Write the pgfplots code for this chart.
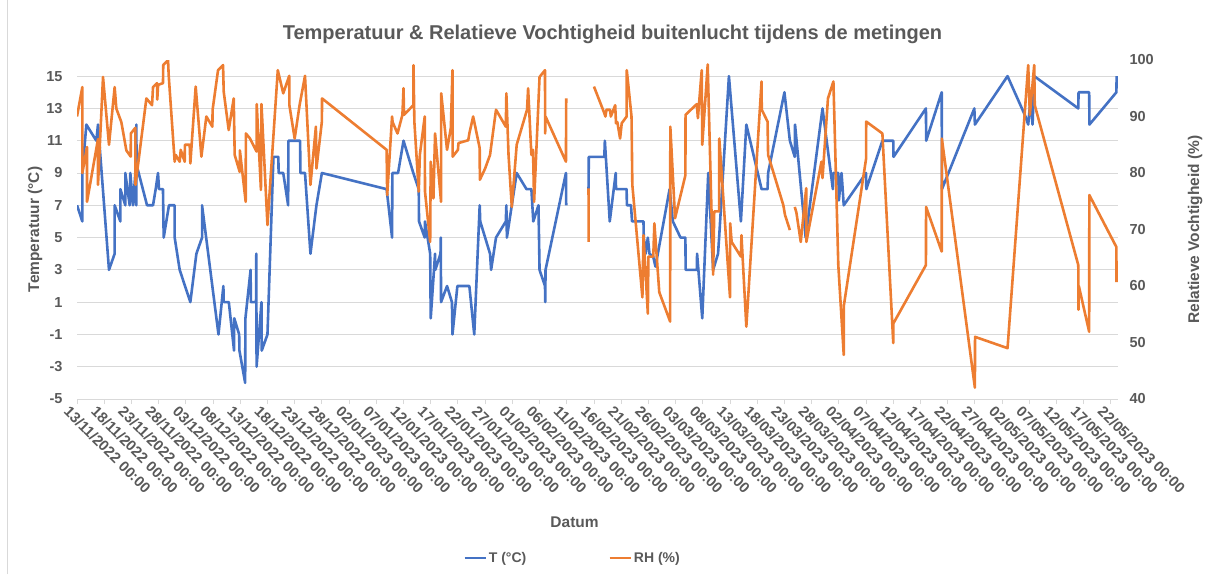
\documentclass[border=0pt]{standalone}
\usepackage{fontspec}
\setmainfont{Liberation Sans}
\usepackage{pgfplots}
\usepackage{pgfplotstable}
\pgfplotsset{compat=1.18}
\definecolor{tblue}{HTML}{4472C4}
\definecolor{rorange}{HTML}{ED7D31}
\definecolor{txtgrey}{HTML}{595959}
\definecolor{gridgrey}{HTML}{D9D9D9}

\pgfplotstableread{
day T
0 7
0.98 6
0.98 9
1.72 12
3.55 11
3.86 12
5.88 3
6.92 4
6.92 7
7.97 6
7.97 8
8.88 7
8.88 9
9.68 7
9.8 9
10.3 7
10.72 9
10.9 7
10.9 12
10.95 9.5
12.87 7
13.97 7
14.46 8
14.89 9
15.07 8
15.8 8
15.93 5
16.9 7
17.95 7
17.95 5
18.87 3
20.83 1
21.94 4
22.98 5
22.98 7
26.0 -1
26.9 2
26.96 1
27.9 1
28.86 -2
28.9 0
29.8 -1
29.85 -2
30.9 -4
30.95 0
31.9 3
31.95 1
32.9 1
32.95 4
33.0 -3
33.9 1
33.95 -2
35.0 -1
36.0 9
36.1 10
37.0 10
37.05 9
37.9 9
38.8 7
38.85 11
41.0 11
41.05 9
41.9 9
42.9 4
44.0 7
45.0 9
56.9 8
57.9 5
57.95 9
59.0 9
60.0 11
61.8 9
62.8 8
62.85 6
63.9 5
63.95 6
64.9 4
65.0 0
65.8 4
65.85 3
66.8 4
66.85 5
66.9 1
68.0 2
68.9 1
69.0 -1
69.9 2
72.1 2
73.0 -1
74.0 7
74.1 6
75.0 5
75.9 4
76.1 3
77.0 5
78.8 6
78.9 7
79.0 5
79.9 7
80.8 9
82.6 8
83.5 8
83.85 6
84.8 7
85.0 3
86.0 2
86.05 1
86.1 3
89.85 9
89.9 7
nan nan
94.0 8
94.05 10
96.9 10
97.0 11
97.9 6
99.0 9
99.05 8
101.0 8
101.05 7
101.8 7
102.0 6
104.1 6
104.15 5
104.5 4
104.9 5
105.2 4
105.9 3.8
106.3 3.2
108.9 8
109.5 6
110.9 5
111.8 5
111.85 3
113.9 3
113.95 4
114.9 0
116.0 9
116.9 3
117.8 4
118.0 5
119.8 15
122.0 6
123.0 12
125.8 8
126.9 8
127.0 9
130.0 14
131.0 11
131.9 10
131.95 12
133.9 5
137.0 13
138.9 8
139.0 9
139.9 9
140.0 7.3
140.5 9
140.9 7
145.0 9
145.05 8
148.0 11
150.0 11
150.05 10
156.0 13
156.05 11
158.9 14
158.95 8
164.9 13
165.0 12
171.0 15
174.3 12.5
174.8 12
175.2 13.5
175.6 12
175.9 15
184.0 13
184.05 14
186.0 14
186.05 12
191.0 14
191.05 15
}\Tdata

\pgfplotstableread{
day RH
0 90
0.98 95.2
0.98 80
1.84 84.6
1.84 74.9
3.86 86
3.86 77.9
4.78 97
5.88 85
6.92 95.2
7.23 91.4
8.15 89
9.07 84
9.87 82.9
9.9 87
10.72 88
10.75 77.9
12.75 93.2
13.79 92
13.97 95.2
14.7 95.9
14.75 93
14.9 95.6
15.8 95.9
15.85 99.1
16.73 100
16.85 97.3
17.95 82
18.14 83.2
18.87 82
19.06 84.1
19.79 82
19.82 85
20.71 85
20.83 81.7
21.81 95.3
22.86 82.9
23.77 90
24.88 88.2
24.92 91.2
25.92 98.2
26.84 99.1
26.96 94.4
27.88 87.6
28.8 93.2
28.98 83.2
29.9 80.2
29.93 84
31.0 74.9
31.03 87
31.8 86.1
33.0 83.8
33.03 92.2
33.8 77
33.9 92.2
35.0 70.8
36.9 98.2
37.9 94.1
39.0 97.2
39.03 92
40.0 86.1
40.9 92
41.9 97.2
42.9 77.9
43.9 88.2
44.0 80.8
45.0 89.1
45.03 93.2
56.9 84.1
57.0 76.1
57.9 90
58.0 89
58.9 87
59.8 90.3
60.0 95
60.1 90.3
61.8 92
61.83 99.1
62.0 89
62.8 76.7
63.0 83.2
63.9 90
63.95 76.7
64.9 67.8
65.0 82
65.5 75.5
65.8 87
66.9 74.9
66.93 94.1
68.0 84.1
68.7 88
69.0 98.2
69.03 82.9
70.0 84.1
70.1 85.3
71.9 85.8
72.1 87
72.8 90
74.0 84.4
74.03 78.8
75.0 80.8
75.9 83.2
77.0 91.2
78.8 88.2
78.9 94.1
79.3 83.2
79.9 74
80.8 85
82.7 91.2
82.9 95
83.5 83.2
83.8 84.1
84.0 74.9
85.0 97
86.0 98.2
86.03 87
86.1 90
89.85 82
89.9 93.2
nan nan
94.0 77.3
94.03 67.8
nan nan
95.0 95.3
96.9 90.6
97.1 90
97.3 91.2
97.95 91.2
98.1 90
98.9 92
99.05 88.8
99.3 89
99.8 86.1
100.1 88.8
101.0 90
101.03 98.2
101.9 90
102.05 77.9
103.9 58
104.1 69
104.9 55.1
105.0 65.2
105.9 65.2
106.1 71.1
107.0 58.9
109.0 53.7
109.03 88.2
109.9 72
111.8 79.6
111.83 90.3
113.9 92.2
114.1 89.7
114.8 98.2
114.9 85
115.9 99.2
116.9 62
117.1 73.2
118.0 73.2
118.03 86.1
120.0 58
120.03 71.1
120.3 67.8
122.0 65.2
122.1 69
123.0 52.8
125.8 96.2
125.83 91.2
126.9 89.1
127.0 83.2
129.8 74.3
130.1 72.6
131.0 69.9
nan nan
131.9 74
132.2 73
133.0 67.8
134.0 77.3
134.03 67.8
136.8 82
137.0 79.1
138.0 93.2
139.0 96.2
139.9 63.7
140.9 47.8
140.93 56.6
145.0 82.5
145.03 89.1
148.0 87
150.0 49.9
150.03 53.4
156.0 63.7
156.03 74
158.9 66.1
158.93 86.1
165.0 42
165.03 51
171.0 49
174.8 99.1
175.1 90.3
175.9 99.1
176.0 92
184.0 63.7
184.03 55.8
184.1 60
186.0 51.9
186.03 76.1
191.0 66.9
191.03 60.7
}\RHdata

\begin{document}
\begin{tikzpicture}[x=1pt,y=1pt]
\pgfplotsset{
  common/.style={
    at={(77pt,175pt)}, anchor=south west,
    scale only axis, width=1041pt, height=339pt,
    xmin=0, xmax=191.3,
    unbounded coords=jump,
    /pgf/number format/assume math mode=true,
    tick label style={font=\bfseries\fontsize{14.5}{16}\selectfont, text=txtgrey},
    label style={font=\bfseries\fontsize{15.5}{18}\selectfont, text=txtgrey},
  }
}
\begin{axis}[common,
  ymin=-5, ymax=16,
  axis y line*=left, axis x line*=bottom,
  y axis line style={draw=none},
  x axis line style={draw=gridgrey, line width=0.9pt, -},
  ytick={-5,-3,...,15},
  ytick style={draw=none},
  yticklabel style={xshift=-6pt},
  ymajorgrids, grid style={gridgrey, line width=0.9pt},
  xtick={0,5,...,190},
  xtick style={draw=gridgrey, line width=0.9pt},
  tick align=outside, major tick length=5pt,
  xticklabels={13/11/2022 00:00,18/11/2022 00:00,23/11/2022 00:00,28/11/2022 00:00,03/12/2022 00:00,08/12/2022 00:00,13/12/2022 00:00,18/12/2022 00:00,23/12/2022 00:00,28/12/2022 00:00,02/01/2023 00:00,07/01/2023 00:00,12/01/2023 00:00,17/01/2023 00:00,22/01/2023 00:00,27/01/2023 00:00,01/02/2023 00:00,06/02/2023 00:00,11/02/2023 00:00,16/02/2023 00:00,21/02/2023 00:00,26/02/2023 00:00,03/03/2023 00:00,08/03/2023 00:00,13/03/2023 00:00,18/03/2023 00:00,23/03/2023 00:00,28/03/2023 00:00,02/04/2023 00:00,07/04/2023 00:00,12/04/2023 00:00,17/04/2023 00:00,22/04/2023 00:00,27/04/2023 00:00,02/05/2023 00:00,07/05/2023 00:00,12/05/2023 00:00,17/05/2023 00:00,22/05/2023 00:00},
  xticklabel style={rotate=-45, anchor=north west, inner sep=0pt, yshift=-5pt, xshift=-4pt, font=\bfseries\fontsize{14.8}{16}\selectfont},
  xlabel={Datum},
  xlabel style={at={(axis description cs:0.478,-0.363)}, anchor=center},
  ylabel={Temperatuur (°C)},
  ylabel style={at={(axis description cs:-0.0403,0.5)}, anchor=center},
  title={Temperatuur \& Relatieve Vochtigheid buitenlucht tijdens de metingen},
  title style={at={(axis description cs:0.5144,1.059)}, anchor=center, font=\bfseries\fontsize{20}{22}\selectfont, text=txtgrey},
]
\addplot[tblue, line width=2.6pt, line join=round, no markers] table[x=day, y=T] {\Tdata};
\end{axis}
\begin{axis}[common,
  ymin=40, ymax=100,
  axis y line*=right, axis x line=none,
  y axis line style={draw=none},
  ytick={40,50,...,100},
  ytick style={draw=none},
  yticklabel style={xshift=8pt},
  ylabel={Relatieve Vochtigheid (\%)},
  ylabel style={at={(axis description cs:1.074,0.5)}, anchor=center},
  legend style={at={(axis description cs:0.476,-0.469)}, anchor=center, draw=none, fill=none,
    legend columns=2, font=\bfseries\fontsize{14}{16}\selectfont, text=txtgrey,
    /tikz/every even column/.append style={column sep=80pt}},
  legend image code/.code={\draw[#1] (0pt,0pt) -- (21pt,0pt);},
]
\addlegendimage{tblue, line width=2.6pt}
\addlegendentry{T (°C)}
\addplot[rorange, line width=2.6pt, line join=round, no markers] table[x=day, y=RH] {\RHdata};
\addlegendentry{RH (\%)}
\end{axis}
\draw[gridgrey, line width=0.8pt] (7,0) -- (7,574);
\pgfresetboundingbox
\path[use as bounding box] (0,0) rectangle (1213,574);
\end{tikzpicture}
\end{document}
